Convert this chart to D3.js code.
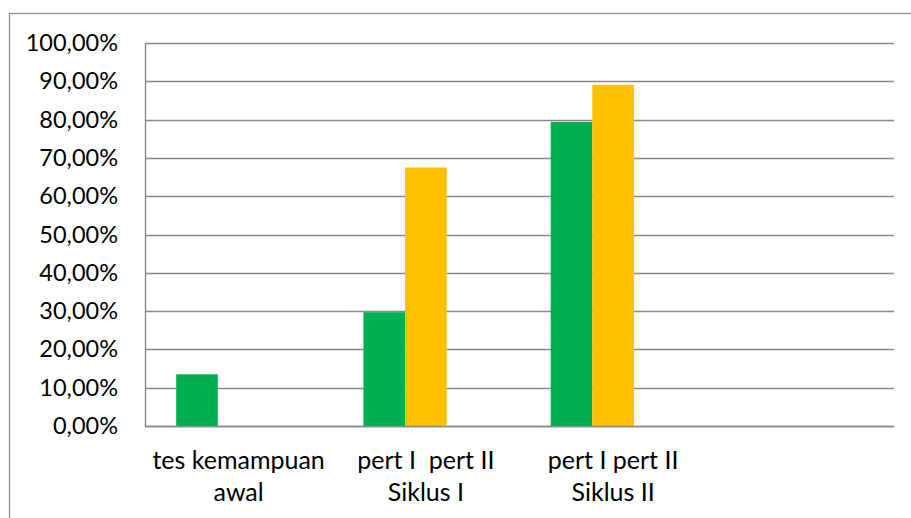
<!DOCTYPE html>
<html>
<head>
<meta charset="utf-8">
<script src="https://cdn.jsdelivr.net/npm/d3@7"></script>
<style>
  html, body { margin: 0; padding: 0; background: #fff; }
  svg { display: block; }
  text { font-family: Lato, "Open Sans", "Liberation Sans", sans-serif; fill: #000; }
</style>
</head>
<body>
<svg id="chart" width="911" height="518"></svg>
<script>
// Category labels (each entry is a list of wrapped lines); the fourth slot is empty
const categories = ["c1", "c2", "c3", "c4"];
const categoryLines = [
  ["tes kemampuan", "awal"],
  ["pert I  pert II", "Siklus I"],
  ["pert I pert II", "Siklus II"],
  []
];
// Series values in percent (null = no bar)
const series1 = [13.5, 29.7, 79.4, null];
const series2 = [null, 67.5, 89.1, null];
const series3 = [null, null, null, null];
const seriesColors = ["#00B050", "#FFC000", "#5B9BD5"];
const yTicks = [0, 10, 20, 30, 40, 50, 60, 70, 80, 90, 100];

const svg = d3.select("#chart");
const W = 911, H = 518;

// Outer frame of the chart area
svg.append("rect")
  .attr("x", 9.5).attr("y", 13.5)
  .attr("width", W + 20).attr("height", H + 20)
  .attr("fill", "#fff")
  .attr("stroke", "#8c8c8c").attr("stroke-width", 1.3);

const plot = { left: 145, right: 894, top: 43, bottom: 426 };

const x = d3.scaleBand()
  .domain(categories)
  .range([plot.left, plot.right])
  .paddingInner(0).paddingOuter(0);

// Three series per category, gap between groups = 1.5 bar widths
const inner = d3.scaleBand()
  .domain([0, 1, 2])
  .range([0, x.bandwidth()])
  .paddingInner(0)
  .paddingOuter(0.75);

const y = d3.scaleLinear().domain([0, 100]).range([plot.bottom, plot.top]);

const fmt = v => d3.format(".2f")(v).replace(".", ",") + "%";

// Horizontal gridlines
svg.append("g")
  .selectAll("line")
  .data(yTicks)
  .join("line")
  .attr("x1", plot.left).attr("x2", plot.right)
  .attr("y1", d => Math.round(y(d)) + 0.5)
  .attr("y2", d => Math.round(y(d)) + 0.5)
  .attr("stroke", "#898989").attr("stroke-width", 1.4);

// Y axis labels
const yAxis = d3.axisLeft(y).tickValues(yTicks).tickFormat(fmt).tickSize(0).tickPadding(27);
const gy = svg.append("g").attr("transform", `translate(${plot.left},0)`).call(yAxis);
gy.select(".domain").attr("stroke", "#898989").attr("stroke-width", 1.4);
gy.selectAll("text").attr("font-size", 23.5).attr("font-family", null).attr("fill", "#000");

// Bars
const allSeries = [series1, series2, series3];
allSeries.forEach((vals, si) => {
  svg.append("g")
    .selectAll("rect")
    .data(categories.map((c, i) => ({ c, v: vals[i] })).filter(d => d.v != null))
    .join("rect")
    .attr("x", d => x(d.c) + inner(si))
    .attr("width", inner.bandwidth())
    .attr("y", d => y(d.v))
    .attr("height", d => y(0) - y(d.v))
    .attr("fill", seriesColors[si]);
});

// X axis baseline
svg.append("line")
  .attr("x1", plot.left).attr("x2", plot.right)
  .attr("y1", Math.round(y(0)) + 0.5).attr("y2", Math.round(y(0)) + 0.5)
  .attr("stroke", "#898989").attr("stroke-width", 1.4);

// Category labels
const xl = svg.append("g");
categories.forEach((c, i) => {
  const t = xl.append("text")
    .attr("text-anchor", "middle")
    .attr("font-size", 25)
    .attr("x", x(c) + x.bandwidth() / 2)
    .attr("y", 469);
  categoryLines[i].forEach((line, k) => {
    t.append("tspan")
      .attr("x", x(c) + x.bandwidth() / 2)
      .attr("dy", k === 0 ? 0 : 32)
      .style("white-space", "pre")
      .text(line);
  });
});
</script>
</body>
</html>
